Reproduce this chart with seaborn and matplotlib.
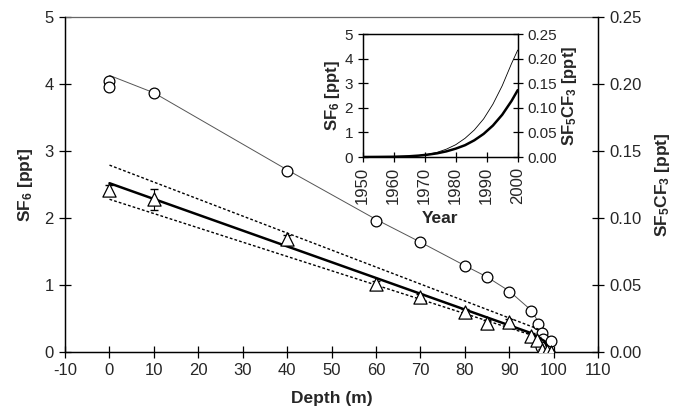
import numpy as np
import pandas as pd
import matplotlib
matplotlib.use("Agg")
import matplotlib.pyplot as plt
import seaborn as sns

# depth profiles (m)
depth_sf6 = [0, 0, 10, 40, 60, 70, 80, 85, 90, 95, 96.4, 97.5, 97.7, 97.2, 99.5]
sf6 = [4.05, 3.96, 3.87, 2.70, 1.96, 1.64, 1.28, 1.12, 0.90, 0.61, 0.42, 0.28, 0.19, 0.07, 0.16]

depth_sf5 = [0, 10, 40, 60, 70, 80, 85, 90, 95, 96.3, 97.5, 98.5, 99.5]
sf5cf3 = [0.121, 0.114, 0.084, 0.051, 0.041, 0.030, 0.0215, 0.0225, 0.012, 0.009, 0.0015, 0.001, 0.0]
sf5_err = [0.004, 0.008, 0.003, 0.002, 0.002, 0.002, 0.002, 0.002, 0.002, 0.002, 0.001, 0.001, 0.001]

# model curves
fit_depth_sf6 = [0, 10, 40, 60, 70, 80, 85, 90, 95, 97, 100]
fit_sf6 = [4.13, 3.87, 2.72, 1.98, 1.64, 1.29, 1.12, 0.91, 0.62, 0.40, 0.12]
fit_depth_sf5 = [0, 95, 98, 99]
fit_sf5 = [0.126, 0.014, 0.008, 0.0]
upper_depth = [0, 97]
upper_sf5 = [0.1395, 0.0165]
lower_depth = [0, 97]
lower_sf5 = [0.114, 0.0105]

# atmospheric history (inset)
years = [1950, 1955, 1960, 1965, 1968, 1971, 1974, 1977, 1980, 1983, 1986, 1989, 1992, 1995, 1998, 2000]
atm_sf6 = [0.0, 0.0, 0.01, 0.03, 0.06, 0.11, 0.19, 0.32, 0.50, 0.76, 1.10, 1.55, 2.15, 2.90, 3.80, 4.35]
atm_sf5 = [0.0, 0.0002, 0.0005, 0.0015, 0.0028, 0.0048, 0.0075, 0.0115, 0.017, 0.024, 0.034, 0.047, 0.064, 0.086, 0.114, 0.136]

sns.set_style("ticks")
plt.rcParams['font.family'] = ['Liberation Sans', 'DejaVu Sans']
plt.rcParams['mathtext.default'] = 'regular'
plt.rcParams['axes.unicode_minus'] = False

fig = plt.figure(figsize=(6.78, 4.18), dpi=100)
ax = fig.add_axes([0.096, 0.158, 0.786, 0.801])
ax2 = ax.twinx()

sns.lineplot(x=fit_depth_sf6, y=fit_sf6, ax=ax, color="#555555", lw=0.7)
sns.scatterplot(x=depth_sf6, y=sf6, ax=ax, marker="o", s=60, facecolor="white",
                edgecolor="black", linewidth=0.9, zorder=3)

sns.lineplot(x=fit_depth_sf5, y=fit_sf5, ax=ax2, color="black", lw=1.8)
sns.lineplot(x=upper_depth, y=upper_sf5, ax=ax2, color="black", lw=1.0, linestyle=(0, (2, 1.5)))
sns.lineplot(x=lower_depth, y=lower_sf5, ax=ax2, color="black", lw=1.0, linestyle=(0, (2, 1.5)))
ax2.errorbar(depth_sf5, sf5cf3, yerr=sf5_err, fmt="none", ecolor="black", elinewidth=0.8, capsize=3)
sns.scatterplot(x=depth_sf5, y=sf5cf3, ax=ax2, marker="^", s=90, facecolor="white",
                edgecolor="black", linewidth=0.9, zorder=3)

ax.set_xlim(-10, 110)
ax.set_ylim(0, 5)
ax2.set_ylim(0, 0.25)
ax.set_xticks(np.arange(-10, 111, 10))
ax.set_yticks(np.arange(0, 6, 1))
ax2.set_yticks(np.arange(0, 0.26, 0.05))
ax2.set_yticklabels([f"{v:.2f}" for v in np.arange(0, 0.26, 0.05)])
for a in (ax, ax2):
    a.tick_params(direction="inout", length=9, width=0.9, labelsize=12, color="black")
    for s in a.spines.values():
        s.set_linewidth(0.9)
        s.set_color("black")
ax.spines['top'].set_color("#666666")
ax.set_xlabel("Depth (m)", fontsize=12.5, fontweight="bold", labelpad=9)
ax.set_ylabel("SF$_6$ [ppt]", fontsize=12.5, fontweight="bold", labelpad=7)
ax2.set_ylabel("SF$_5$CF$_3$ [ppt]", fontsize=12.5, fontweight="bold", labelpad=8)
ax2.spines['top'].set_visible(False)

# inset
ins = fig.add_axes([0.535, 0.6244, 0.2286, 0.294])
ins2 = ins.twinx()
sns.lineplot(x=years, y=atm_sf6, ax=ins, color="black", lw=0.6)
sns.lineplot(x=years, y=atm_sf5, ax=ins2, color="black", lw=1.8)
ins.set_xlim(1950, 2000)
ins.set_ylim(0, 5)
ins2.set_ylim(0, 0.25)
ins.set_xticks(np.arange(1950, 2001, 10))
ins.set_yticks(np.arange(0, 6, 1))
ins2.set_yticks(np.arange(0, 0.26, 0.05))
ins2.set_yticklabels([f"{v:.2f}" for v in np.arange(0, 0.26, 0.05)])
for a in (ins, ins2):
    a.tick_params(direction="inout", length=7, width=0.9, labelsize=11, color="black")
    for s in a.spines.values():
        s.set_linewidth(0.9)
        s.set_color("black")
ins.tick_params(axis="x", labelrotation=90, labelsize=12)
ins.set_xlabel("Year", fontsize=12.5, fontweight="bold", labelpad=5)
ins.set_ylabel("SF$_6$ [ppt]", fontsize=12, fontweight="bold", labelpad=2)
ins2.set_ylabel("SF$_5$CF$_3$ [ppt]", fontsize=12, fontweight="bold", labelpad=2)

fig.savefig("out.png", dpi=100)
